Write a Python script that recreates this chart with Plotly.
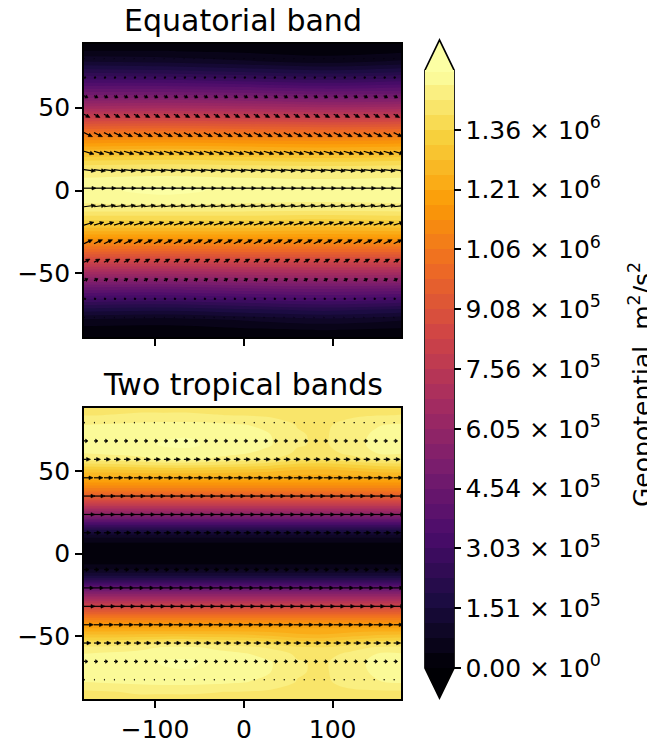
import math
import plotly.graph_objects as go

# ---------------- data (geopotential in units of 1e5 m^2/s^2) ----------------
top_lon = [-180, -90, 0, 90, 177]
top_lat = [-88.4, -84, -78, -72, -66, -60, -54, -48, -42, -36, -30, -24, -18, -12, -6,
           0, 6, 12, 18, 24, 30, 36, 42, 48, 54, 60, 66, 72, 78, 84, 88.4]
top_z = [
    [0.0, 0.0, 0.1, 0.1, 0.0],
    [0.2, 0.2, 0.3, 0.4, 0.3],
    [0.7, 0.6, 0.8, 1.0, 0.8],
    [1.7, 1.6, 1.8, 2.0, 1.8],
    [2.9, 2.8, 3.0, 3.2, 3.0],
    [4.2, 4.1, 4.3, 4.4, 4.3],
    [5.6, 5.5, 5.7, 5.8, 5.7],
    [7.1, 7.0, 7.1, 7.2, 7.1],
    [8.6, 8.5, 8.6, 8.6, 8.6],
    [10.1, 10.0, 10.1, 10.1, 10.1],
    [11.4, 11.4, 11.4, 11.4, 11.4],
    [12.6, 12.6, 12.6, 12.5, 12.6],
    [13.6, 13.6, 13.6, 13.5, 13.6],
    [14.45, 14.45, 14.45, 14.4, 14.45],
    [14.85, 14.95, 14.85, 14.8, 14.85],
    [15.0, 15.25, 15.0, 14.95, 15.0],
    [14.85, 14.95, 14.85, 14.8, 14.85],
    [14.45, 14.5, 14.45, 14.4, 14.45],
    [13.6, 13.7, 13.6, 13.5, 13.6],
    [12.6, 12.7, 12.6, 12.5, 12.6],
    [11.4, 11.5, 11.4, 11.3, 11.4],
    [10.1, 10.2, 10.1, 10.0, 10.1],
    [8.6, 8.7, 8.6, 8.5, 8.6],
    [7.1, 7.2, 7.1, 7.0, 7.1],
    [5.7, 5.8, 5.7, 5.5, 5.6],
    [4.4, 4.4, 4.3, 4.1, 4.2],
    [3.2, 3.2, 3.0, 2.8, 3.0],
    [2.1, 2.0, 1.8, 1.6, 1.8],
    [1.1, 1.0, 0.8, 0.6, 0.8],
    [0.4, 0.4, 0.3, 0.2, 0.3],
    [0.1, 0.1, 0.1, 0.0, 0.1],
]

bot_lon = [-180, -150, -120, -90, -60, -30, 0, 30, 60, 90, 120, 150, 177]
bot_lat = [-88.4, -84, -78, -72, -66, -61, -57, -54, -50, -46, -42, -38, -34, -30, -26,
           -22, -18, -14, -10, -5, 0, 5, 10, 14, 18, 22, 26, 30, 34, 38, 42, 46, 50,
           54, 57, 61, 66, 72, 78, 84, 88.4]
bot_z = [
    [14.15, 14.2, 14.3, 14.3, 14.3, 14.3, 14.25, 14.25, 14.2, 14.2, 14.2, 14.2, 14.15],
    [14.3, 14.35, 14.4, 14.4, 14.4, 14.37, 14.35, 14.3, 14.25, 14.25, 14.3, 14.3, 14.3],
    [14.75, 14.8, 14.85, 14.9, 14.9, 14.85, 14.77, 14.6, 14.35, 14.3, 14.5, 14.72, 14.8],
    [14.85, 14.9, 14.95, 15.05, 15.08, 14.97, 14.87, 14.75, 14.4, 14.3, 14.62, 14.8, 14.85],
    [14.87, 14.93, 14.98, 15.17, 15.2, 14.99, 14.9, 14.77, 14.4, 14.3, 14.62, 14.83, 14.87],
    [14.75, 14.82, 14.87, 14.95, 14.97, 14.87, 14.78, 14.6, 14.3, 14.23, 14.45, 14.75, 14.77],
    [14.45, 14.5, 14.6, 14.77, 14.8, 14.65, 14.5, 14.3, 14.05, 14.0, 14.2, 14.4, 14.45],
    [13.85, 13.9, 14.0, 14.1, 14.1, 14.0, 13.9, 13.7, 13.45, 13.4, 13.6, 13.8, 13.85],
    [13.0, 13.0, 13.05, 13.1, 13.1, 13.05, 13.0, 12.85, 12.6, 12.55, 12.75, 12.95, 13.0],
    [12.2] * 13,
    [11.4] * 13,
    [10.3] * 13,
    [9.0] * 13,
    [7.6] * 13,
    [6.2] * 13,
    [4.7] * 13,
    [3.0] * 13,
    [1.6] * 13,
    [0.8] * 13,
    [0.2] * 13,
    [0.0] * 13,
    [0.2] * 13,
    [0.8] * 13,
    [1.8] * 13,
    [3.3] * 13,
    [5.0] * 13,
    [6.5] * 13,
    [8.0] * 13,
    [9.3] * 13,
    [10.5] * 13,
    [11.5] * 13,
    [12.3] * 13,
    [13.0, 13.0, 13.05, 13.1, 13.1, 13.05, 13.0, 12.9, 12.7, 12.65, 12.8, 12.95, 13.0],
    [13.85, 13.9, 14.0, 14.1, 14.1, 14.0, 13.9, 13.75, 13.5, 13.45, 13.6, 13.8, 13.85],
    [14.45, 14.5, 14.6, 14.77, 14.8, 14.65, 14.5, 14.35, 14.1, 14.05, 14.2, 14.4, 14.45],
    [14.75, 14.82, 14.87, 14.95, 14.97, 14.87, 14.78, 14.6, 14.3, 14.23, 14.45, 14.75, 14.77],
    [14.87, 14.93, 14.98, 15.17, 15.2, 14.99, 14.9, 14.77, 14.4, 14.3, 14.62, 14.83, 14.87],
    [14.85, 14.9, 14.95, 15.05, 15.08, 14.97, 14.87, 14.75, 14.4, 14.3, 14.62, 14.8, 14.85],
    [14.75, 14.8, 14.85, 14.9, 14.9, 14.85, 14.77, 14.6, 14.35, 14.3, 14.5, 14.72, 14.8],
    [14.35, 14.37, 14.4, 14.4, 14.4, 14.37, 14.35, 14.3, 14.25, 14.25, 14.3, 14.35, 14.37],
    [14.3, 14.3, 14.3, 14.3, 14.3, 14.3, 14.25, 14.25, 14.2, 14.2, 14.2, 14.25, 14.3],
]

# wind arrows (quiver) -- rows of latitude, columns of longitude
arrow_lat = [79.5, 68.4, 57.2, 46.0, 34.9, 23.7, 12.6, 1.4, -9.8, -20.9, -32.1, -43.3,
             -54.4, -65.6, -76.7]
arrow_lon = [-180.0, -168.75, -157.5, -146.25, -135.0, -123.75, -112.5, -101.25, -90.0,
             -78.75, -67.5, -56.25, -45.0, -33.75, -22.5, -11.25, 0.0, 11.25, 22.5, 33.75,
             45.0, 56.25, 67.5, 78.75, 90.0, 101.25, 112.5, 123.75, 135.0, 146.25, 157.5,
             168.75]
u_top = [0.5, 2.0, 4.0, 6.0, 8.5, 10.0, 11.5, 12.0, 11.5, 10.0, 8.5, 6.0, 4.0, 2.0, 0.5]
v_top = [-0.2, -0.8, -2.0, -3.2, -4.0, -3.0, -1.5, 0.0, 1.5, 3.0, 4.0, 3.2, 2.0, 0.8, 0.2]
u_bot = [1.0, 4.0, 6.5, 9.0, 11.0, 11.0, 7.0, 0.0, 5.0, 10.0, 11.0, 9.5, 7.0, 4.0, 1.0]
v_bot = [0.0, 0.0, 0.0, 0.0, 0.0, 0.0, 0.0, 0.0, 0.0, 0.0, 0.0, 0.0, 0.0, 0.0, 0.0]

cbar_tickvals = [0.0, 1.512, 3.024, 4.536, 6.048, 7.56, 9.072, 10.584, 12.096, 13.608]
cbar_ticktext = ["0.00 × 10<sup>0</sup>", "1.51 × 10<sup>5</sup>", "3.03 × 10<sup>5</sup>",
                 "4.54 × 10<sup>5</sup>", "6.05 × 10<sup>5</sup>", "7.56 × 10<sup>5</sup>",
                 "9.08 × 10<sup>5</sup>", "1.06 × 10<sup>6</sup>", "1.21 × 10<sup>6</sup>",
                 "1.36 × 10<sup>6</sup>"]
panel_titles = ["Equatorial band", "Two tropical bands"]

# ---------------- layout geometry (pixels) ----------------
W, H = 647, 742
AX_X = (84, 401)
TOP_Y = (44, 337)
BOT_Y = (408, 699)
XR = [-180, 177]
YR = [-88.4, 88.4]
CB_X = (425, 454)
CB_Y = (70, 668)


def pxx(x):
    return x / W


def pxy(y):
    return 1 - y / H


LEVEL_START, LEVEL_END, LEVEL_SIZE = 0.0, 15.12, 0.378

fig = go.Figure()


def contour(lon, lat, z, xa, ya, show):
    return go.Contour(
        x=lon, y=lat, z=z, xaxis=xa, yaxis=ya,
        colorscale="Inferno", zmin=LEVEL_START, zmax=LEVEL_END,
        autocontour=False,
        contours=dict(start=LEVEL_START, end=LEVEL_END, size=LEVEL_SIZE, coloring="fill",
                      showlines=False),
        line=dict(width=0), hoverinfo="skip", showscale=show,
        colorbar=dict(
            x=pxx(CB_X[0]), xanchor="left", xpad=0,
            y=pxy((CB_Y[0] + CB_Y[1]) / 2), yanchor="middle", ypad=0,
            len=CB_Y[1] - CB_Y[0], lenmode="pixels",
            thickness=CB_X[1] - CB_X[0], thicknessmode="pixels",
            outlinewidth=0,
            ticks="outside", ticklen=7, tickwidth=1.7, tickcolor="black",
            tickvals=cbar_tickvals, ticktext=cbar_ticktext,
            tickfont=dict(family="DejaVu Sans", size=25, color="black"),
        ),
    )


fig.add_trace(contour(top_lon, top_lat, top_z, "x", "y", True))
fig.add_trace(contour(bot_lon, bot_lat, bot_z, "x2", "y2", False))


def quiver(u, v, ypix, xa, ya):
    kx = (AX_X[1] - AX_X[0]) / (XR[1] - XR[0])
    ky = (ypix[1] - ypix[0]) / (YR[1] - YR[0])
    sx, sy, hx, hy = [], [], [], []
    for lat, uu, vv in zip(arrow_lat, u, v):
        L = math.hypot(uu, vv)
        if L < 0.05:
            continue
        dx, dy = uu / L, vv / L
        px_, py_ = -dy, dx
        hl = min(4.0, 0.6 * L)
        hw = min(1.8, 0.5 * L)
        for lon in arrow_lon:
            def P(a, b):
                return lon + a / kx, lat + b / ky
            bx, by = (L - hl) * dx, (L - hl) * dy
            tx, ty = L * dx, L * dy
            if L - hl > 0.2:
                x0, y0 = P(0, 0)
                x1, y1 = P(bx, by)
                sx += [x0, x1, None]
                sy += [y0, y1, None]
            a = P(bx + hw * px_, by + hw * py_)
            b = P(tx, ty)
            c = P(bx - hw * px_, by - hw * py_)
            hx += [a[0], b[0], c[0], a[0], None]
            hy += [a[1], b[1], c[1], a[1], None]
    fig.add_trace(go.Scatter(x=sx, y=sy, mode="lines", xaxis=xa, yaxis=ya,
                             line=dict(color="black", width=1.2), hoverinfo="skip",
                             showlegend=False))
    fig.add_trace(go.Scatter(x=hx, y=hy, mode="lines", fill="toself", fillcolor="black",
                             xaxis=xa, yaxis=ya, line=dict(color="black", width=0.6),
                             hoverinfo="skip", showlegend=False))


quiver(u_top, v_top, TOP_Y, "x", "y")
quiver(u_bot, v_bot, BOT_Y, "x2", "y2")

axis_common = dict(showgrid=False, zeroline=False, showline=True, mirror=True,
                   linecolor="black", linewidth=1.7, ticks="outside", ticklen=7,
                   tickwidth=1.7, tickcolor="black", automargin=False,
                   tickfont=dict(family="DejaVu Sans", size=25, color="black"))

fig.update_layout(
    width=W, height=H,
    margin=dict(l=0, r=0, t=0, b=0, autoexpand=False),
    paper_bgcolor="white", plot_bgcolor="white",
    font=dict(family="DejaVu Sans", size=25, color="black"),
    showlegend=False,
    xaxis=dict(domain=[pxx(AX_X[0]), pxx(AX_X[1])], range=XR, anchor="y",
               tickvals=[-100, 0, 100], showticklabels=False, **axis_common),
    yaxis=dict(domain=[pxy(TOP_Y[1]), pxy(TOP_Y[0])], range=YR, anchor="x",
               tickvals=[-50, 0, 50], ticktext=["−50", "0", "50"], **axis_common),
    xaxis2=dict(domain=[pxx(AX_X[0]), pxx(AX_X[1])], range=XR, anchor="y2",
                tickvals=[-100, 0, 100], ticktext=["−100", "0", "100"], **axis_common),
    yaxis2=dict(domain=[pxy(BOT_Y[1]), pxy(BOT_Y[0])], range=YR, anchor="x2",
                tickvals=[-50, 0, 50], ticktext=["−50", "0", "50"], **axis_common),
)

# panel titles
cx = (AX_X[0] + AX_X[1]) / 2
for title, yc in zip(panel_titles, [20, 384]):
    fig.add_annotation(text=title, x=pxx(cx), y=pxy(yc), xref="paper", yref="paper",
                       showarrow=False, xanchor="center", yanchor="middle",
                       font=dict(family="DejaVu Sans", size=30, color="black"))

# colorbar label
fig.add_annotation(text="Geopotential, m<sup>2</sup>/s<sup>2</sup>", x=pxx(640), y=pxy(385),
                   xref="paper", yref="paper", showarrow=False, textangle=-90,
                   xanchor="center", yanchor="middle",
                   font=dict(family="DejaVu Sans", size=25, color="black"))

# colorbar extension triangles and outline
cmid = (CB_X[0] + CB_X[1]) / 2
tri_h = 30


def path(pts, close=True):
    s = "M " + " L ".join(f"{pxx(x)},{pxy(y)}" for x, y in pts)
    return s + (" Z" if close else "")


fig.add_shape(type="path", xref="paper", yref="paper",
              path=path([(CB_X[0], CB_Y[0] + 0.5), (cmid, CB_Y[0] - tri_h), (CB_X[1], CB_Y[0] + 0.5)]),
              fillcolor="#fcffa4", line=dict(width=0))
fig.add_shape(type="path", xref="paper", yref="paper",
              path=path([(CB_X[0], CB_Y[1] - 0.5), (cmid, CB_Y[1] + tri_h), (CB_X[1], CB_Y[1] - 0.5)]),
              fillcolor="#000004", line=dict(width=0))
fig.add_shape(type="path", xref="paper", yref="paper",
              path=path([(CB_X[0], CB_Y[0]), (cmid, CB_Y[0] - tri_h), (CB_X[1], CB_Y[0]),
                         (CB_X[1], CB_Y[1]), (cmid, CB_Y[1] + tri_h), (CB_X[0], CB_Y[1])]),
              fillcolor="rgba(0,0,0,0)", line=dict(color="black", width=1.7))

fig.write_html(
    "out.html",
    config={"displayModeBar": False},
    post_script="document.body.style.margin='0';document.body.style.overflow='hidden';",
)
